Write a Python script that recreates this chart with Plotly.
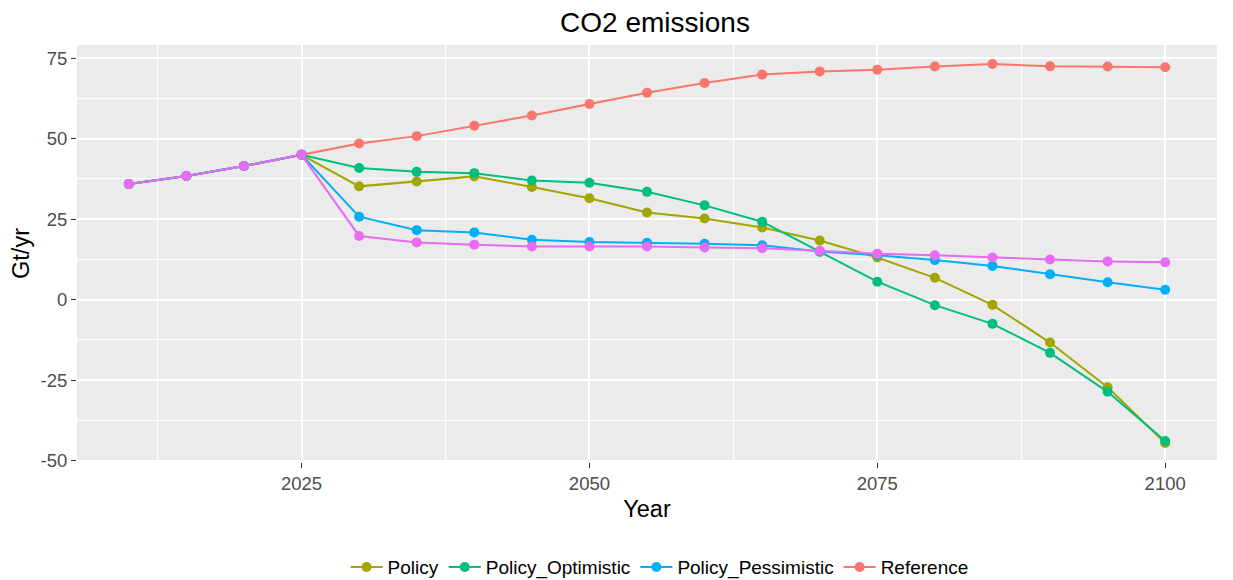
import plotly.graph_objects as go

years = [2010, 2015, 2020, 2025, 2030, 2035, 2040, 2045, 2050, 2055, 2060,
         2065, 2070, 2075, 2080, 2085, 2090, 2095, 2100]

# common history 2010-2025
hist = [35.9, 38.4, 41.5, 45.0]

reference = hist + [48.5, 50.8, 54.0, 57.2, 60.8, 64.3, 67.3, 69.9, 70.9,
                    71.4, 72.4, 73.2, 72.5, 72.4, 72.2]
policy = hist + [35.2, 36.7, 38.3, 35.0, 31.5, 27.1, 25.2, 22.4, 18.4,
                 13.1, 6.8, -1.6, -13.3, -27.2, -44.5]
policy_opt = hist + [40.9, 39.7, 39.3, 37.0, 36.3, 33.5, 29.3, 24.2, 14.9,
                     5.6, -1.7, -7.5, -16.5, -28.6, -43.9]
policy_pes = hist + [25.8, 21.6, 20.9, 18.6, 17.9, 17.7, 17.4, 16.9, 15.0,
                     13.8, 12.3, 10.5, 7.9, 5.4, 3.1]
policy_fifth = hist + [19.8, 17.8, 17.1, 16.5, 16.5, 16.5, 16.2, 16.0, 15.2,
                       14.3, 13.8, 13.1, 12.5, 11.9, 11.6]

x_ticks = [2025, 2050, 2075, 2100]
y_ticks = [-50, -25, 0, 25, 50, 75]
y_labels = ["-50", "-25", "0", "25", "50", "75"]

series = [
    ("Reference", reference, "#F8766D", True),
    ("Policy", policy, "#A3A500", True),
    ("Policy_Optimistic", policy_opt, "#00BF7D", True),
    ("Policy_Pessimistic", policy_pes, "#00B0F6", True),
    ("Policy_Other", policy_fifth, "#E76BF3", False),
]
legend_rank = {"Policy": 1, "Policy_Optimistic": 2, "Policy_Pessimistic": 3, "Reference": 4}

fig = go.Figure()
for name, vals, col, show in series:
    fig.add_trace(go.Scatter(x=years, y=vals, name=name, mode="lines+markers",
                             line=dict(color=col, width=2),
                             marker=dict(color=col, size=10),
                             showlegend=show, legendrank=legend_rank.get(name, 5)))

# page body adds an 8px offset, margins are trimmed to compensate
font = "Arial, Liberation Sans, sans-serif"
fig.update_layout(
    width=1233, height=580,
    margin=dict(l=69, r=24, t=37, b=126),
    paper_bgcolor="white", plot_bgcolor="#EBEBEB",
    font=dict(family=font, color="black"),
    title=dict(text="CO2 emissions", x=0.507, xanchor="center", xref="paper",
               y=0.975, yref="container", yanchor="middle",
               font=dict(size=28, color="black")),
    legend=dict(orientation="h", x=0.511, xanchor="center", xref="paper",
                y=0.036, yref="container", yanchor="middle",
                font=dict(size=19, color="black"), itemwidth=32),
)
fig.update_xaxes(
    title=dict(text="Year", font=dict(size=23.5), standoff=7),
    range=[2005.5, 2104.5], tickvals=x_ticks,
    tickfont=dict(size=18.5, color="#4D4D4D"),
    ticks="outside", ticklen=5, tickcolor="#333333", tickwidth=1.2,
    showgrid=True, gridcolor="white", gridwidth=1.6, zeroline=False, showline=False,
    automargin=False,
    minor=dict(tickvals=[2012.5, 2037.5, 2062.5, 2087.5], showgrid=True,
               gridcolor="white", gridwidth=0.8),
)
fig.update_yaxes(
    title=dict(text="Gt/yr", font=dict(size=23.5), standoff=4),
    range=[-50.4, 79.1], tickvals=y_ticks, ticktext=y_labels,
    tickfont=dict(size=18.5, color="#4D4D4D"),
    ticks="outside", ticklen=5, tickcolor="#333333", tickwidth=1.2,
    showgrid=True, gridcolor="white", gridwidth=1.6, zeroline=False, showline=False,
    automargin=False,
    minor=dict(tickvals=[-37.5, -12.5, 12.5, 37.5, 62.5], showgrid=True,
               gridcolor="white", gridwidth=0.8),
)

fig.write_html("out.html")
